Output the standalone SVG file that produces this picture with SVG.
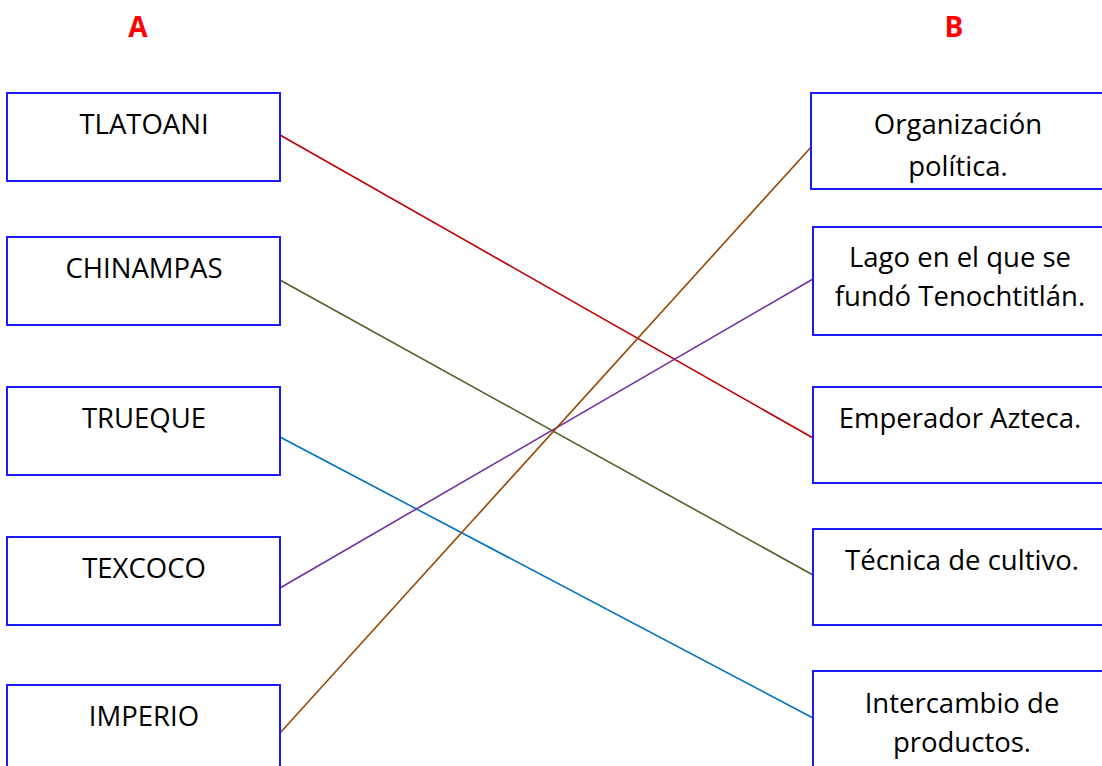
<svg xmlns="http://www.w3.org/2000/svg" width="1102" height="766" viewBox="0 0 1102 766">
<style>
.box{fill:#ffffff;stroke:#1a1aff;stroke-width:2}
.t{font-family:"Open Sans","Noto Sans",sans-serif;font-size:27.5px;fill:#000;text-anchor:middle}
.h{font-family:"Open Sans","Liberation Sans",sans-serif;font-size:28px;font-weight:bold;fill:#ff0000;text-anchor:middle}
.c{fill:none;stroke-width:1.6}
</style>
<rect width="1102" height="766" fill="#ffffff"/>
<text class="h" x="138" y="37">A</text>
<text class="h" x="954" y="37">B</text>
<g id="connectors">
<line class="c" stroke="#c00000" x1="280" y1="135" x2="813" y2="438"/>
<line class="c" stroke="#4f6228" x1="280" y1="280" x2="813" y2="575"/>
<line class="c" stroke="#0070c0" x1="280" y1="437" x2="813" y2="718"/>
<line class="c" stroke="#7030a0" x1="280" y1="588" x2="813" y2="279"/>
<line class="c" stroke="#984806" x1="280" y1="733" x2="813" y2="145"/>
</g>
<g id="tlatoani"><rect class="box" x="7" y="93" width="273" height="88"/><text class="t" x="144" y="134">TLATOANI</text></g>
<g id="chinampas"><rect class="box" x="7" y="237" width="273" height="88"/><text class="t" x="144" y="278">CHINAMPAS</text></g>
<g id="trueque"><rect class="box" x="7" y="387" width="273" height="88"/><text class="t" x="144" y="428">TRUEQUE</text></g>
<g id="texcoco"><rect class="box" x="7" y="537" width="273" height="88"/><text class="t" x="144" y="578">TEXCOCO</text></g>
<g id="imperio"><rect class="box" x="7" y="685" width="273" height="100"/><text class="t" x="144" y="726">IMPERIO</text></g>
<g id="organizacion"><rect class="box" x="811" y="93" width="300" height="96"/><text class="t" x="958" y="134">Organización</text><text class="t" x="958" y="176">política.</text></g>
<g id="lago"><rect class="box" x="813" y="227" width="300" height="108"/><text class="t" x="960" y="267">Lago en el que se</text><text class="t" x="960" y="306">fundó Tenochtitlán.</text></g>
<g id="emperador"><rect class="box" x="813" y="387" width="300" height="96"/><text class="t" x="960" y="428">Emperador Azteca.</text></g>
<g id="tecnica"><rect class="box" x="813" y="529" width="300" height="96"/><text class="t" x="962" y="570">Técnica de cultivo.</text></g>
<g id="intercambio"><rect class="box" x="813" y="671" width="300" height="110"/><text class="t" x="962" y="713">Intercambio de</text><text class="t" x="962" y="752">productos.</text></g>
</svg>
